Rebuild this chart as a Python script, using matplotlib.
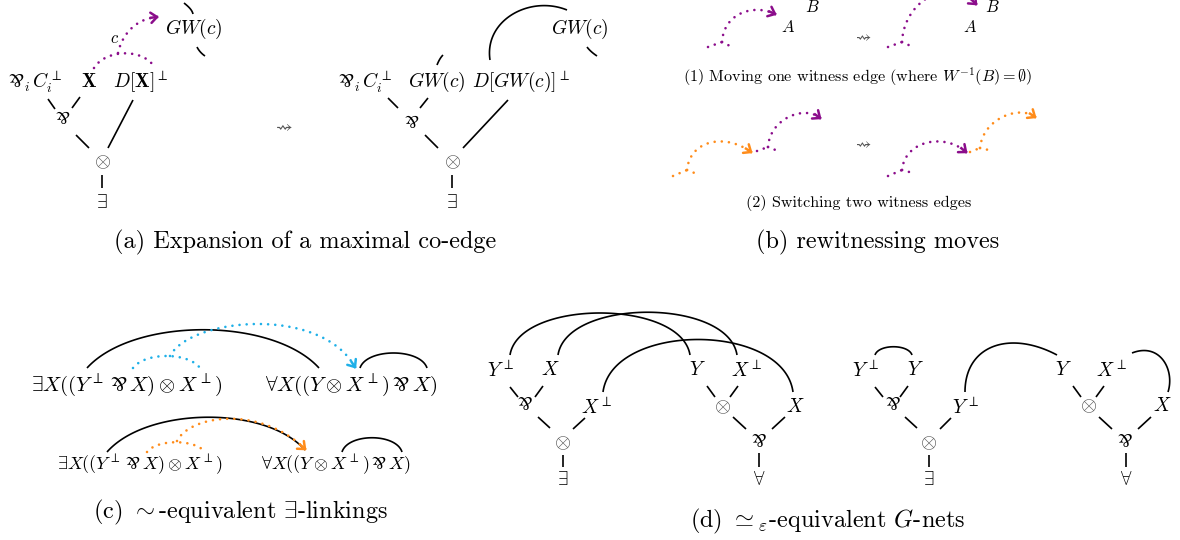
import numpy as np
import matplotlib
matplotlib.use('Agg')
import matplotlib.pyplot as plt
from math import comb

plt.rcParams['mathtext.fontset'] = 'cm'
plt.rcParams['font.family'] = 'serif'
plt.rcParams['font.serif'] = ['cmr10', 'DejaVu Serif']
plt.rcParams['axes.unicode_minus'] = False

PAR = '⅋'
PURPLE = '#8b0d8b'
ORANGE = '#ff8c1a'
BLUE = '#1fb0e8'
GREY = '#555555'

# ---------------- content ----------------
captions = [
    r'(a) Expansion of a maximal co-edge',
    r'(b) rewitnessing moves',
    r'(c) $\sim$-equivalent $\exists$-linkings',
    r'(d) $\simeq_{\varepsilon}$-equivalent $G$-nets',
]
sub_captions_b = [
    r'(1) Moving one witness edge (where $W^{-1}(B) = \emptyset$)',
    r'(2) Switching two witness edges',
]
formula_exists = r'$\exists X((Y^{\perp}\,' + PAR + r'\,X)\otimes X^{\perp})$'
formula_forall = r'$\forall X((Y\otimes X^{\perp})\,' + PAR + r'\,X)$'

LBL = 14       # node label size
CAP = 17.5     # caption size
OTI = 15       # tensor node size

fig = plt.figure(figsize=(11.8, 5.4), dpi=100)
ax = fig.add_axes([0, 0, 1, 1])
ax.set_xlim(0, 1180)
ax.set_ylim(540, 0)
ax.axis('off')


def bez(pts, n=100):
    pts = np.asarray(pts, float)
    t = np.linspace(0, 1, n)[:, None]
    k = len(pts) - 1
    out = np.zeros((n, 2))
    for i, p in enumerate(pts):
        out += comb(k, i) * (t ** i) * ((1 - t) ** (k - i)) * p
    return out


def curve(pts, color='black', lw=1.2, dotted=False, arrow=False):
    c = bez(pts)
    if dotted:
        ax.plot(c[:, 0], c[:, 1], color=color, lw=1.9,
                linestyle=(0, (0.01, 2.7)), dash_capstyle='round')
    else:
        ax.plot(c[:, 0], c[:, 1], color=color, lw=lw, solid_capstyle='butt')
    if arrow:
        tip = c[-1]
        d = c[-1] - c[-6]
        d = d / np.hypot(*d)
        L = 8
        for ang in (np.radians(40), -np.radians(40)):
            R = np.array([[np.cos(ang), -np.sin(ang)], [np.sin(ang), np.cos(ang)]])
            b = tip - L * (R @ d)
            ax.plot([tip[0], b[0]], [tip[1], b[1]], color=color, lw=1.8,
                    solid_capstyle='round')
        s = tip - 6 * d
        ax.plot([tip[0], s[0]], [tip[1], s[1]], color=color, lw=1.8)


def arch(x0, y0, x1, y1, h, k=0.05, **kw):
    dx = x1 - x0
    curve([(x0, y0), (x0 + k * dx, y0 - h), (x1 - k * dx, y1 - h), (x1, y1)], **kw)


def seg(x0, y0, x1, y1, lw=1.2):
    ax.plot([x0, x1], [y0, y1], color='black', lw=lw, solid_capstyle='butt')


def txt(x, y, s, size=LBL, color='black', **kw):
    ax.text(x, y, s, fontsize=size, color=color, ha='center', va='center', **kw)


def witness(legL, base, legR, path, color):
    curve([legL, base], color=color, dotted=True)
    curve([base, legR], color=color, dotted=True)
    curve([base] + path, color=color, dotted=True, arrow=True)


# ---------------- panel (a) ----------------
txt(35, 82, r'$' + PAR + r'_i\,C_i^{\perp}$')
txt(89, 82, r'$\mathbf{X}$')
txt(141, 82, r'$D[\mathbf{X}]^{\perp}$')
txt(194, 29, r'$GW(c)$')
txt(63, 118, r'$' + PAR + r'$', 13)
txt(102, 162, r'$\otimes$', OTI, color=GREY)
txt(102, 203, r'$\exists$', 14)
seg(48, 99, 55, 109); seg(80, 97, 72, 108)
seg(76, 135, 89, 148); seg(133, 100, 108, 148)
seg(102, 175, 102, 188)
curve([(184, 3), (189, 7), (192, 10), (193, 14)])
curve([(197, 47), (199, 51), (202, 54), (205, 56)])
curve([(94, 68), (105, 50), (140, 48), (153, 65)], color=PURPLE, dotted=True)
curve([(118, 53), (122, 35), (135, 19), (157, 17)], color=PURPLE, dotted=True, arrow=True)
txt(115, 38, r'$c$', 12)
txt(282, 126, r'$\leadsto$', 13, color=GREY)

txt(365, 82, r'$' + PAR + r'_i\,C_i^{\perp}$')
txt(437, 82, r'$GW(c)$')
txt(521, 82, r'$D[GW(c)]^{\perp}$')
txt(580, 29, r'$GW(c)$')
txt(412, 122, r'$' + PAR + r'$', 13)
txt(452, 162, r'$\otimes$', OTI, color=GREY)
txt(452, 203, r'$\exists$', 14)
seg(388, 98, 398, 108); seg(428, 98, 420, 108)
seg(425, 135, 438, 148); seg(508, 100, 463, 148)
seg(452, 175, 452, 188)
curve([(437, 65), (439, 60), (441, 57), (443, 55)])
curve([(490, 60), (484, 20), (530, -5), (567, 10)])
curve([(587, 47), (590, 51), (594, 54), (597, 56)])
txt(305, 242, captions[0], CAP)

# ---------------- panel (b) ----------------
witness((708, 47), (722, 42), (732, 47), [(724, 12), (755, 4), (775, 14)], PURPLE)
txt(812, 7, r'$B$', 12)
txt(788, 27, r'$A$', 12)
txt(863, 36, r'$\leadsto$', 12, color=GREY)
witness((888, 47), (902, 42), (913, 47), [(904, 0), (950, -25), (976, 4)], PURPLE)
txt(992, 7, r'$B$', 12)
txt(970, 27, r'$A$', 12)
txt(858, 77, sub_captions_b[0], 11.6)

witness((673, 176), (687, 170), (697, 174), [(690, 140), (725, 133), (751, 152)], ORANGE)
witness((757, 151), (768, 147), (778, 151), [(770, 118), (805, 105), (820, 118)], PURPLE)
txt(863, 143, r'$\leadsto$', 12, color=GREY)
witness((888, 176), (902, 170), (913, 173), [(905, 140), (945, 133), (966, 152)], PURPLE)
witness((970, 152), (980, 148), (993, 151), [(983, 118), (1020, 105), (1035, 117)], ORANGE)
txt(859, 203, sub_captions_b[1], 11.6)
txt(878, 242, captions[1], CAP)

# ---------------- panel (c) ----------------
txt(127, 386, formula_exists, 15)
txt(351, 386, formula_forall, 15)
arch(87, 368, 319, 368, 51, k=0.2)
arch(360, 368, 427, 368, 20, k=0.1)
curve([(133, 368), (145, 352), (188, 352), (200, 368)], color=BLUE, dotted=True)
curve([(170, 356), (190, 318), (320, 305), (355, 367)], color=BLUE, dotted=True, arrow=True)

txt(140, 465, formula_exists, 13)
txt(336, 465, formula_forall, 13)
arch(107, 452, 305, 450, 45, k=0.2)
arch(342, 452, 402, 452, 19, k=0.1)
curve([(147, 452), (157, 439), (195, 439), (205, 452)], color=ORANGE, dotted=True)
curve([(177, 441), (190, 415), (260, 405), (305, 449)], color=ORANGE, dotted=True, arrow=True)
txt(240, 512, captions[2], CAP)

# ---------------- panel (d) ----------------
d_left = [(500, 370, r'$Y^{\perp}$'), (550, 370, r'$X$'), (525, 405, r'$' + PAR + r'$'),
          (597, 407, r'$X^{\perp}$'), (563, 443, r'$\otimes$'), (563, 480, r'$\exists$'),
          (697, 370, r'$Y$'), (747, 370, r'$X^{\perp}$'), (722, 407, r'$\otimes$'),
          (795, 407, r'$X$'), (759, 442, r'$' + PAR + r'$'), (759, 480, r'$\forall$')]
d_right = [(865, 370, r'$Y^{\perp}$'), (915, 370, r'$Y$'), (893, 405, r'$' + PAR + r'$'),
           (965, 407, r'$Y^{\perp}$'), (929, 443, r'$\otimes$'), (929, 480, r'$\exists$'),
           (1063, 370, r'$Y$'), (1112, 370, r'$X^{\perp}$'), (1088, 406, r'$\otimes$'),
           (1162, 406, r'$X$'), (1125, 442, r'$' + PAR + r'$'), (1126, 480, r'$\forall$')]
for x, y, s in d_left + d_right:
    if 'otimes' in s:
        txt(x, y, s, OTI, color=GREY)
    elif ('exists' in s) or ('forall' in s) or (PAR in s):
        txt(x, y, s, 13.5)
    else:
        txt(x, y, s, LBL)

seg(510, 387, 518, 397); seg(543, 386, 535, 397)
seg(538, 417, 550, 428); seg(585, 418, 573, 429); seg(563, 455, 563, 467)
seg(707, 386, 715, 397); seg(738, 386, 730, 397)
seg(733, 417, 746, 429); seg(785, 417, 772, 429); seg(759, 453, 759, 467)
arch(510, 355, 690, 355, 56)
arch(558, 355, 737, 355, 57)
arch(603, 392, 793, 392, 70)

seg(875, 387, 883, 397); seg(908, 386, 900, 397)
seg(905, 417, 917, 428); seg(951, 418, 940, 429); seg(929, 455, 929, 467)
seg(1073, 386, 1081, 397); seg(1104, 386, 1096, 397)
seg(1099, 417, 1112, 429); seg(1151, 417, 1138, 429); seg(1126, 453, 1126, 467)
arch(875, 355, 912, 355, 11, k=0.1)
curve([(965, 392), (965, 345), (1010, 330), (1057, 355)])
curve([(1132, 353), (1160, 342), (1175, 370), (1168, 392)])
txt(828, 521, captions[3], CAP)

fig.savefig('out.png', dpi=100)
